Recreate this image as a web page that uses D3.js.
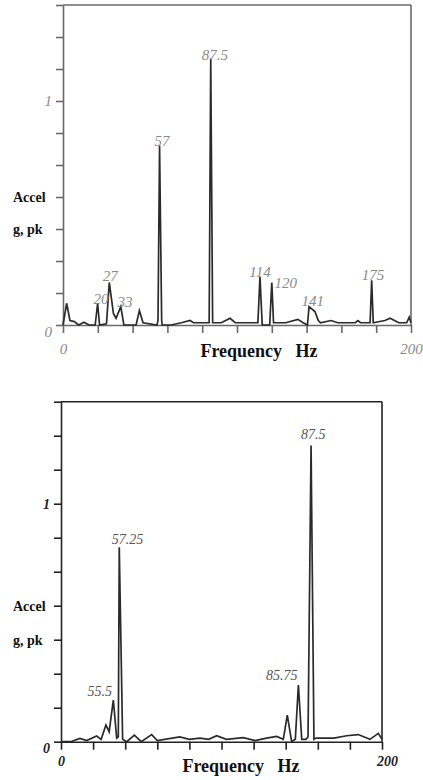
<!DOCTYPE html>
<html><head><meta charset="utf-8">
<script src="https://cdn.jsdelivr.net/npm/d3@7"></script>
<style>body{margin:0;background:#fff}svg{display:block}
svg text{font-family:"Liberation Serif","Times New Roman","DejaVu Serif",serif !important}</style>
</head><body>
<script>
// ---- data ----
const topFreq = [0,2.1,4,6.5,9,12,15,18.5,19.9,21,25,26.6,29,30.5,33.2,35,42,43.9,46,54,54.6,55.5,56.7,57,62,68,73,75,84,84.9,86,91,96,99,112,113.2,114.5,118.8,120,121,128,135,138,140.5,141.4,144.8,146.7,148,154,158,168,169.5,171,176.5,177.4,178.3,185,188,193,197.5,199,200];
const topAmp  = [0,0.097,0.02,0.015,0,0.012,0,0,0.097,0,0.005,0.19,0.05,0.03,0.082,0,0,0.064,0.01,0,0.02,0.80,0.02,0,0,0.01,0.02,0.01,0.01,1.19,0.01,0.01,0.03,0.01,0.01,0.214,0,0,0.19,0.01,0.01,0.025,0.01,0,0.082,0.06,0.02,0.01,0.02,0.01,0.01,0.02,0.01,0.01,0.20,0.01,0.02,0.03,0.01,0.01,0.035,0.01];
const topPeakLabels = ["20","27","33","57","87.5","114","120","141","175"];
const topPeakFreq   = [21.8,27.2,35.6,56.9,87.3,113.2,128,143.6,178.2];
const topPeakAmp    = [0.095,0.195,0.082,0.80,1.185,0.215,0.165,0.085,0.203];

const botFreq = [0,6,11.8,16,22.2,25,28,30,32.6,34.7,35.7,36.3,38.4,41,45.7,50,56.5,60,74,80,86.6,92,97,103,113.5,121,128,134.4,138.5,141,143.7,146,147.9,150,152.6,153.9,155.8,157.6,158.9,170,178,185.2,192.5,197.7,200];
const botAmp  = [0,0,0.014,0.005,0.024,0.01,0.07,0.042,0.175,0.015,0.02,0.817,0.01,0.0,0.028,0.0,0.03,0.005,0.02,0.01,0.015,0.01,0.025,0.01,0.017,0.005,0.015,0.022,0.01,0.112,0.0,0.01,0.238,0.01,0.01,0.02,1.244,0.01,0.015,0.015,0.025,0.03,0.01,0.035,0.01];
const botPeakLabels = ["55.5","57.25","85.75","87.5"];
const botPeakFreq   = [24.2,41.5,137.5,157.2];
const botPeakAmp    = [0.19,0.83,0.26,1.27];

const yTickLabels = ["0","","","g, pk","Accel","","","1","","",""];
const xTickLabels = ["0","","","","","","","","","","200"];
const xTitle = "Frequency   Hz";

// ---- drawing ----
const svg = d3.select("body").append("svg").attr("width",423).attr("height",780);

function panel(cfg){
  const x = d3.scaleLinear().domain([0,200]).range([cfg.x0,cfg.x1]);
  const y = d3.scaleLinear().domain([0,10/7]).range([cfg.y0,cfg.y1]);
  const g = svg.append("g");
  g.append("line").attr("x1",cfg.x0).attr("x2",cfg.x1).attr("y1",cfg.y1).attr("y2",cfg.y1)
    .attr("stroke",cfg.axis).attr("stroke-width",1.6);
  g.append("line").attr("x1",cfg.x1).attr("x2",cfg.x1).attr("y1",cfg.y1).attr("y2",cfg.y0)
    .attr("stroke",cfg.axis).attr("stroke-width",1.6);
  const ya = g.append("g").attr("transform",`translate(${cfg.x0},0)`)
    .call(d3.axisLeft(y).tickValues(d3.range(11).map(k=>k/7)).tickSize(7).tickSizeOuter(0)
      .tickFormat((d,i)=>yTickLabels[i]));
  ya.select(".domain").attr("stroke",cfg.axis).attr("stroke-width",1.6);
  ya.selectAll(".tick line").attr("stroke",cfg.axis).attr("stroke-width",1.6);
  ya.selectAll(".tick text").each(function(d,i){
    const t=d3.select(this);
    if(i===3||i===4){
      t.attr("text-anchor","start").attr("x",13-cfg.x0)
       .attr("font-weight","bold").attr("font-size",14).attr("fill","#111");
    } else {
      t.attr("font-style","italic")
       .attr("font-size",cfg.numSize).attr("font-weight",cfg.numWeight).attr("fill",cfg.numColor)
       .attr("x",-11).attr("dy", i===0 ? "0.75em" : "0.32em");
    }
  });
  const xa = g.append("g").attr("transform",`translate(0,${cfg.y0})`)
    .call(d3.axisBottom(x).tickValues(d3.range(0,201,20)).tickSize(8).tickSizeOuter(0)
      .tickFormat((d,i)=>xTickLabels[i]));
  xa.select(".domain").attr("stroke",cfg.axis).attr("stroke-width",1.6);
  xa.selectAll(".tick line").attr("stroke",cfg.axis).attr("stroke-width",1.6);
  xa.selectAll(".tick text").attr("font-style","italic")
    .attr("font-size",cfg.numSize).attr("font-weight",cfg.numWeight).attr("fill",cfg.numColor)
    .attr("y",cfg.xLabY).attr("dx",(d,i)=> i===10 ? cfg.x200dx : 0);
  g.append("text").attr("x",cfg.titleX).attr("y",cfg.titleY).attr("text-anchor","middle")
    .attr("font-weight","bold").attr("font-size",18)
    .attr("fill","#111").style("white-space","pre").text(xTitle);
  const line = d3.line().x(d=>x(d[0])).y(d=>y(d[1]));
  g.append("path").datum(d3.zip(cfg.freq,cfg.amp)).attr("d",line)
    .attr("fill","none").attr("stroke","#2a2a2a").attr("stroke-width",1.7);
  g.selectAll(".pl").data(cfg.labels).join("text")
    .attr("x",(d,i)=>x(cfg.lf[i])).attr("y",(d,i)=>y(cfg.la[i])).attr("text-anchor","middle")
    .attr("font-style","italic").attr("font-size",cfg.pkSize)
    .attr("fill",cfg.pkColor).text(d=>d);
}

panel({x0:63,x1:411,y0:325,y1:5,axis:"#6a6a6a",numColor:"#8a8a8a",numWeight:"normal",numSize:15,
  xLabY:18,x200dx:0,titleX:259,titleY:357,freq:topFreq,amp:topAmp,
  labels:topPeakLabels,lf:topPeakFreq,la:topPeakAmp,pkSize:15,pkColor:"#8a8a8a"});
panel({x0:61,x1:382,y0:741.7,y1:401.7,axis:"#222",numColor:"#222",numWeight:"bold",numSize:14,
  xLabY:14,x200dx:5,titleX:241,titleY:772,freq:botFreq,amp:botAmp,
  labels:botPeakLabels,lf:botPeakFreq,la:botPeakAmp,pkSize:14,pkColor:"#555"});
</script>
</body></html>
